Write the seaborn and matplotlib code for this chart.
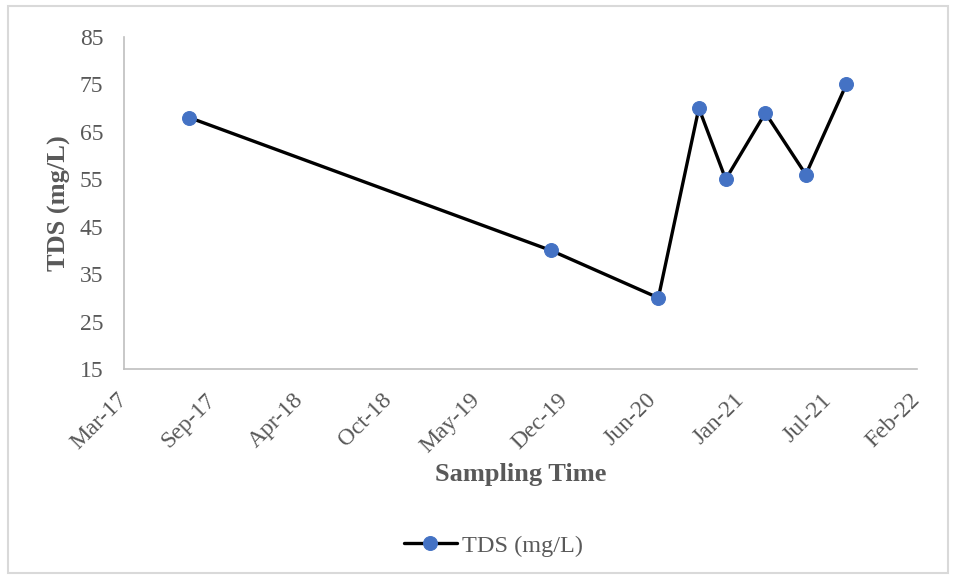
import pandas as pd
import numpy as np
import matplotlib
matplotlib.use('Agg')
import matplotlib.pyplot as plt
import matplotlib.dates as mdates
from matplotlib.patches import Rectangle
import seaborn as sns

# =============================================================================
# DATOS
# =============================================================================
fechas_muestreo = ['2017-08-01', '2019-10-31', '2020-07-01', '2020-10-01',
                   '2020-12-01', '2021-03-01', '2021-06-01', '2021-09-01']
tds_mg_l = [68, 40, 30, 70, 55, 69, 56, 75]

# Eje de fechas estilo Excel: inicio 6-mar-2017, unidad mayor 200 dias
eje_inicio = '2017-03-06'
eje_fin = '2022-02-08'
paso_dias = 200
y_ticks = [15, 25, 35, 45, 55, 65, 75, 85]

df = pd.DataFrame({'fecha': pd.to_datetime(fechas_muestreo), 'tds': tds_mg_l})

# =============================================================================
# GRAFICO
# =============================================================================
sns.set_style('white')
plt.rcParams['font.family'] = ['Liberation Serif', 'DejaVu Serif']

GRIS_TEXTO = '#595959'
GRIS_EJE = '#BFBFBF'

fig = plt.figure(figsize=(9.56, 5.79), dpi=100)
ax = fig.add_axes([0.130, 0.3627, 0.829, 0.5734])

sns.lineplot(data=df, x='fecha', y='tds', ax=ax, color='black', linewidth=2.4,
             marker='o', markersize=10, markerfacecolor='#4472C4',
             markeredgecolor='#4472C4', label='TDS (mg/L)')

ticks_x = pd.date_range(eje_inicio, eje_fin, freq=f'{paso_dias}D')
ax.set_xlim(ticks_x[0], ticks_x[-1])
ax.set_xticks(ticks_x)
ax.xaxis.set_major_formatter(mdates.DateFormatter('%b-%y'))
ax.set_ylim(y_ticks[0], y_ticks[-1])
ax.set_yticks(y_ticks)

ax.tick_params(axis='both', length=0, labelsize=17, labelcolor=GRIS_TEXTO)
ax.tick_params(axis='y', pad=15)
ax.tick_params(axis='x', pad=20)
for lbl in ax.get_xticklabels():
    lbl.set_rotation(45)
    lbl.set_ha('right')
    lbl.set_va('center')
    lbl.set_rotation_mode('anchor')

for lado in ['top', 'right']:
    ax.spines[lado].set_visible(False)
for lado in ['left', 'bottom']:
    ax.spines[lado].set_color(GRIS_EJE)
    ax.spines[lado].set_linewidth(1.2)

ax.set_xlabel('Sampling Time', fontsize=19, weight='bold', color=GRIS_TEXTO)
ax.set_ylabel('TDS (mg/L)', fontsize=19, weight='bold', color=GRIS_TEXTO)
ax.xaxis.set_label_coords(0.5, -0.283)
ax.yaxis.set_label_coords(-0.067, 0.5)

leg = ax.legend(loc='center', bbox_to_anchor=(0.516, 0.057),
                bbox_transform=fig.transFigure, frameon=False, fontsize=17.5,
                handlelength=2.2, handletextpad=0.2)
for txt in leg.get_texts():
    txt.set_color(GRIS_TEXTO)

# Borde del area del grafico
fig.patches.append(Rectangle((8 / 956, 6 / 579), 1 - 16 / 956, 1 - 12 / 579,
                             transform=fig.transFigure, fill=False,
                             edgecolor='#D9D9D9', linewidth=1.5))

plt.savefig('out.png', dpi=100)
plt.close()
